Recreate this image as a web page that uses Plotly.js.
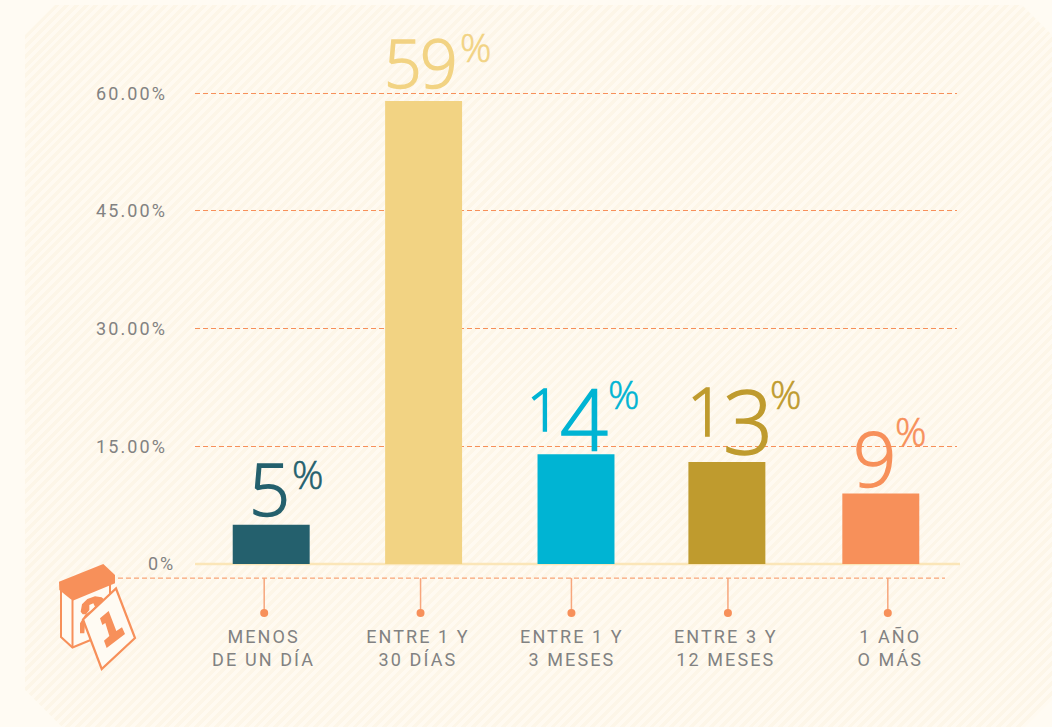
<!DOCTYPE html>
<html><head><meta charset="utf-8">
<script src="https://cdn.plot.ly/plotly-3.0.1.min.js"></script>
<style>
html,body{margin:0;padding:0;background:#fffbf3;width:1052px;height:727px;overflow:hidden}
#bg{position:absolute;left:0;top:0;width:1052px;height:727px;
 clip-path:polygon(55px 5px,1022px 5px,1052px 35px,1052px 700px,1025px 727px,62px 727px,25px 690px,25px 35px);
 background:repeating-linear-gradient(135deg,#fdf6e8 0,#fdf6e8 3.5px,#fffaf1 3.5px,#fffaf1 7px)}
#chart{position:absolute;left:0;top:0;width:1052px;height:727px}
.xtick text,.ytick text{letter-spacing:2.1px}
</style></head><body>
<div id="bg"></div><div id="chart"></div>
<script>
// --- data ---
const categories = ["MENOS<br>DE UN DÍA","ENTRE 1 Y<br>30 DÍAS","ENTRE 1 Y<br>3 MESES","ENTRE 3 Y<br>12 MESES","1 AÑO<br>O MÁS"];
const values = [5,59,14,13,9];
const colors = ["#24606d","#f2d383","#00b4d3","#bf9b2e","#f7905a"];
const yTickVals = [15,30,45,60];
const yTickText = ["15.00%","30.00%","45.00%","60.00%"];
const zeroLabel = "0%";
// slot positions on the x axis (slot units)
const barSlots = [0,1,2,2.99,4];
const stemSlots = [-0.046,0.98,1.97,2.997,4.046];
const labelSlots = [-0.05,0.963,1.973,2.983,4.062];
const stemY = [-1.8,-6.25];
// old-style numeral look: per-digit size and nudge from the bar top, px
const digitSize = [[72],[66,66],[58,84],[66,88],[76]];
const digitDx = [[-2],[-20.5,15],[-33,8],[-21,21],[-6]];
const digitDy = [[37],[39.5,39.5],[45.5,37],[52.5,42],[35.5]];
const pctDx = [36,51.7,47,58.8,29.3];
const pctDy = [51,54.5,61,69,63];

const W=1052,H=727,L=195,R=95,T=54,B=112;
const px=x=>(x-L)/(W-L-R), py=y=>1-(y-T)/(H-T-B);
const poly=pts=>'M'+pts.map(([x,y])=>px(x)+','+py(y)).join('L')+'Z';
const zoomPts=a=>a.map(([x,y])=>[50+x/3,565+y/3]);

const ORANGE="#f7905a";
const shapeBase={xref:'paper',yref:'paper',type:'path'};
const icon=[
 {path:poly([[61,590],[110,575],[110,632],[72.5,647.5],[61,637]]),fillcolor:"#fffbf3",line:{color:ORANGE,width:2}},
 {path:poly([[72.5,600],[72.5,647.5]]),fillcolor:"rgba(0,0,0,0)",line:{color:ORANGE,width:2}},
 {path:poly(zoomPts([[92,140],[96,118],[112,102],[135,94],[155,97],[168,108],[170,125],[150,135],[130,150],[105,175],[103,205],[90,205],[90,175],[105,150],[125,135],[135,125],[130,115],[118,120],[118,135],[108,148],[98,148]])),fillcolor:ORANGE,line:{width:0}},
 {path:poly([[59,581.7],[103.3,564],[115,575],[115,583.3],[72.7,600.7],[59.3,590]]),fillcolor:ORANGE,line:{width:0}},
 {path:poly([[83,619.5],[116,588.5],[135,638],[101.7,669]]),fillcolor:"#fffbf3",line:{color:ORANGE,width:2.2}},
 {path:poly(zoomPts([[176,138],[150,160],[157,180],[166,174],[178,213],[162,227],[170,249],[225,207],[216,187],[199,198]])),fillcolor:ORANGE,line:{width:0}}
].map(s=>Object.assign({},shapeBase,s));

const stemX=[],stemYs=[];
stemSlots.forEach(s=>{stemX.push(s,s,null);stemYs.push(stemY[0],stemY[1],null);});

const traces=[
 {type:'bar',x:barSlots,y:values,marker:{color:colors,line:{width:0}},width:0.505,hoverinfo:'skip',showlegend:false},
 {type:'scatter',mode:'lines',x:stemX,y:stemYs,line:{color:"#f7a67c",width:1.5},hoverinfo:'skip',showlegend:false,cliponaxis:false},
 {type:'scatter',mode:'markers',x:stemSlots,y:stemSlots.map(()=>stemY[1]),marker:{color:ORANGE,size:8},hoverinfo:'skip',showlegend:false,cliponaxis:false}
];

const numFont=(c,s)=>({family:'"Open Sans", sans-serif',size:s,color:c,weight:300});
const annotations=[];
values.forEach((v,i)=>{
 String(v).split('').forEach((d,j)=>{
  annotations.push({x:barSlots[i],y:v,xref:'x',yref:'y',text:d,showarrow:false,xanchor:'center',yanchor:'middle',xshift:digitDx[i][j],yshift:digitDy[i][j],font:numFont(colors[i],digitSize[i][j]),borderpad:0});
 });
 annotations.push({x:barSlots[i],y:v,xref:'x',yref:'y',text:'%',showarrow:false,xanchor:'center',yanchor:'middle',xshift:pctDx[i],yshift:pctDy[i],font:numFont(colors[i],39),borderpad:0});
});
annotations.push({x:px(174),xref:'paper',y:0,yref:'y',text:zeroLabel,showarrow:false,xanchor:'right',yanchor:'middle',yshift:1,font:{family:'Roboto, sans-serif',size:18,color:'#828282'},borderpad:0});

const layout={
 width:W,height:H,margin:{l:L,r:R,t:T,b:B,pad:0},
 paper_bgcolor:'rgba(0,0,0,0)',plot_bgcolor:'rgba(0,0,0,0)',
 showlegend:false,
 font:{family:'Roboto, sans-serif',size:18,color:'#828282'},
 xaxis:{type:'linear',range:[-0.5,4.5],tickmode:'array',tickvals:labelSlots,ticktext:categories,showgrid:false,zeroline:false,showline:false,ticks:'',ticklabelstandoff:9,tickfont:{size:18,color:'#828282'},automargin:false},
 yaxis:{range:[-6.5,65],tickmode:'array',tickvals:yTickVals,ticktext:yTickText,showgrid:true,griddash:'5px,3px',gridcolor:ORANGE,gridwidth:1,zeroline:false,showline:false,ticks:'',ticklabelstandoff:27,tickfont:{size:18,color:'#828282'},automargin:false},
 annotations,
 shapes:[
  {type:'line',xref:'paper',yref:'y',x0:0,x1:px(960),y0:0,y1:0,line:{color:'#fbe6b8',width:2.5},layer:'between'},
  {type:'line',xref:'paper',yref:'y',x0:px(118),x1:px(945),y0:stemY[0],y1:stemY[0],line:{color:ORANGE,width:1,dash:'5px,3px'},layer:'below'},
  ...icon
 ]
};
Plotly.newPlot('chart',traces,layout,{displayModeBar:false,staticPlot:true}).then(()=>{
 // thicken the light numerals a little; space the zero label like the tick labels
 document.querySelectorAll('.annotation-text').forEach(t=>{
  const s=parseFloat(t.style.fontSize);
  if(s>20){t.style.stroke=t.style.fill;t.style.strokeWidth=s>50?'1.5px':'0.6px';}
  else t.style.letterSpacing='2.1px';
 });
});
</script></body></html>
